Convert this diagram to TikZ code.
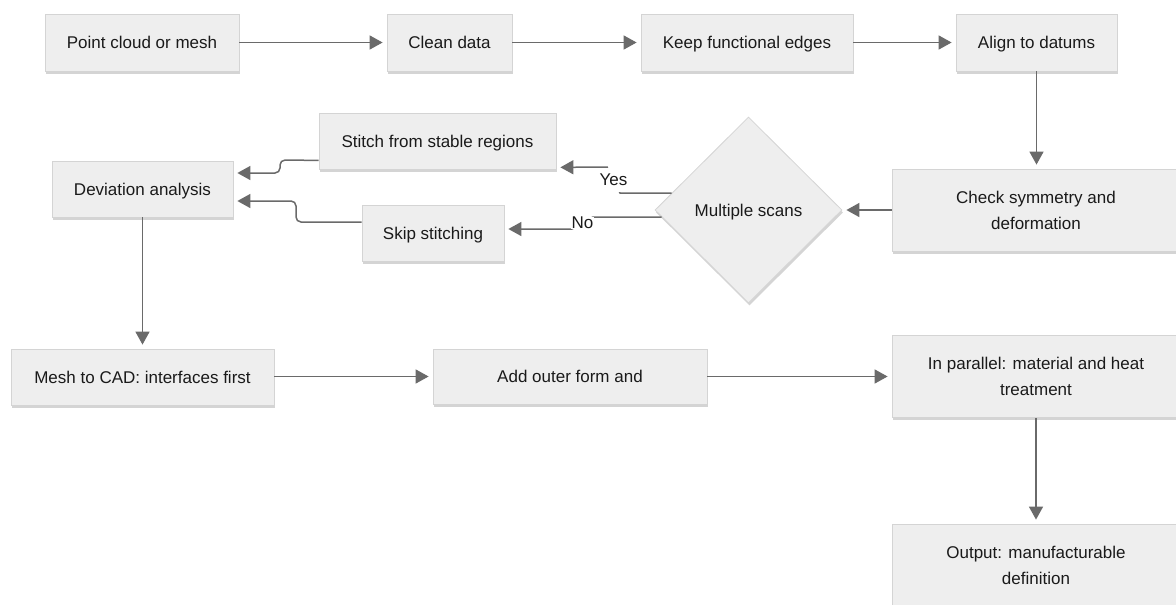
\documentclass[tikz,border=0pt]{standalone}
\usepackage{fontspec}
\setmainfont{Liberation Sans}
\usetikzlibrary{arrows.meta,shapes.geometric,shadows}
\definecolor{boxfill}{HTML}{EEEEEE}
\definecolor{boxline}{HTML}{D4D4D4}
\definecolor{linkc}{HTML}{6A6A6A}
\definecolor{txt}{HTML}{1A1A1A}
\begin{document}
\begin{tikzpicture}[x=1pt,y=-1pt,
  box/.style={draw=boxline, line width=0.8pt, fill=boxfill, inner sep=0pt, text=txt, align=center,
    font=\fontsize{17pt}{26pt}\selectfont,
    drop shadow={shadow xshift=1pt,shadow yshift=-2.5pt,opacity=0.3,fill=black!55}},
  one/.style={text height=12.2pt, text depth=0pt},
  sz/.style 2 args={minimum width=#1pt, minimum height=#2pt},
  dia/.style={box, one, diamond, aspect=1},
  link/.style={draw=linkc, line width=1.5pt, shorten >=4pt, -{Triangle[length=13pt,width=14pt]}},
  lbl/.style={fill=white, text=txt, font=\fontsize{17pt}{20pt}\selectfont, inner xsep=1pt, inner ysep=2pt}]
\clip (0,0) rectangle (1176,605);
\fill[white] (0,0) rectangle (1176,605);
% row 1
\node[box, one, sz={194}{57}] (A) at (142,42.5) {Point cloud or mesh};
\node[box, one, sz={125}{57}] (B) at (449.5,42.5) {Clean data};
\node[box, one, sz={212}{57}] (C) at (747,42.5) {Keep functional edges};
\node[box, one, sz={161}{57}] (D) at (1036.5,42.5) {Align to datums};
% row 2
\node[box, sz={288}{82}] (E) at (1036,210) {Check symmetry and\\deformation};
\node[dia, sz={187}{186}] (F) at (748.5,210) {Multiple scans};
\node[box, one, sz={237}{56}] (G) at (437.5,141) {Stitch from stable regions};
\node[box, one, sz={142}{56}] (S) at (433,233) {Skip stitching};
\node[box, one, sz={181}{56}] (H) at (142.5,189) {Deviation analysis};
% row 3
\node[box, one, sz={263}{56}] (I) at (142.5,377) {Mesh to CAD: interfaces first};
\node[box, one, sz={274}{55}] (J) at (570,376.5) {Add outer form and};
\node[box, sz={288}{82}] (K) at (1036,376.5) {In parallel: material and heat\\treatment};
\node[box, sz={288}{82}] (L) at (1036,565) {Output: manufacturable\\definition};
% connectors
\draw[link] (A) -- (B);
\draw[link] (B) -- (C);
\draw[link] (C) -- (D);
\draw[link] (D.south) -- (D.south |- E.north);
\draw[link] (E.west) -- (F.east);
\draw[link] (F.west) ++(17,-17) -- (620,193) -- node[lbl, inner ysep=6pt] (ly) {Yes} (607,167) -- ([yshift=2pt]G.south east);
\draw[link] (F.west) ++(7,7) -- (593,217) -- node[lbl, inner ysep=0pt] (ln) {No} (572,229) -- ([yshift=4pt]S.east);
\draw[link, rounded corners=5pt] ([yshift=9pt]G.south west) -- (280,160) -- (280,173) -- ([yshift=16pt]H.east);
\draw[link, rounded corners=5pt] ([yshift=11pt]S.west) -- (296,222) -- (296,201) -- ([yshift=-12pt]H.east);
\draw[link] (H.south) -- (I.north);
\draw[link] (I.east |- J.west) -- (J.west);
\draw[link] (J.east) -- (K.west);
\draw[link] (K.south) -- (L.north);
\end{tikzpicture}
\end{document}
